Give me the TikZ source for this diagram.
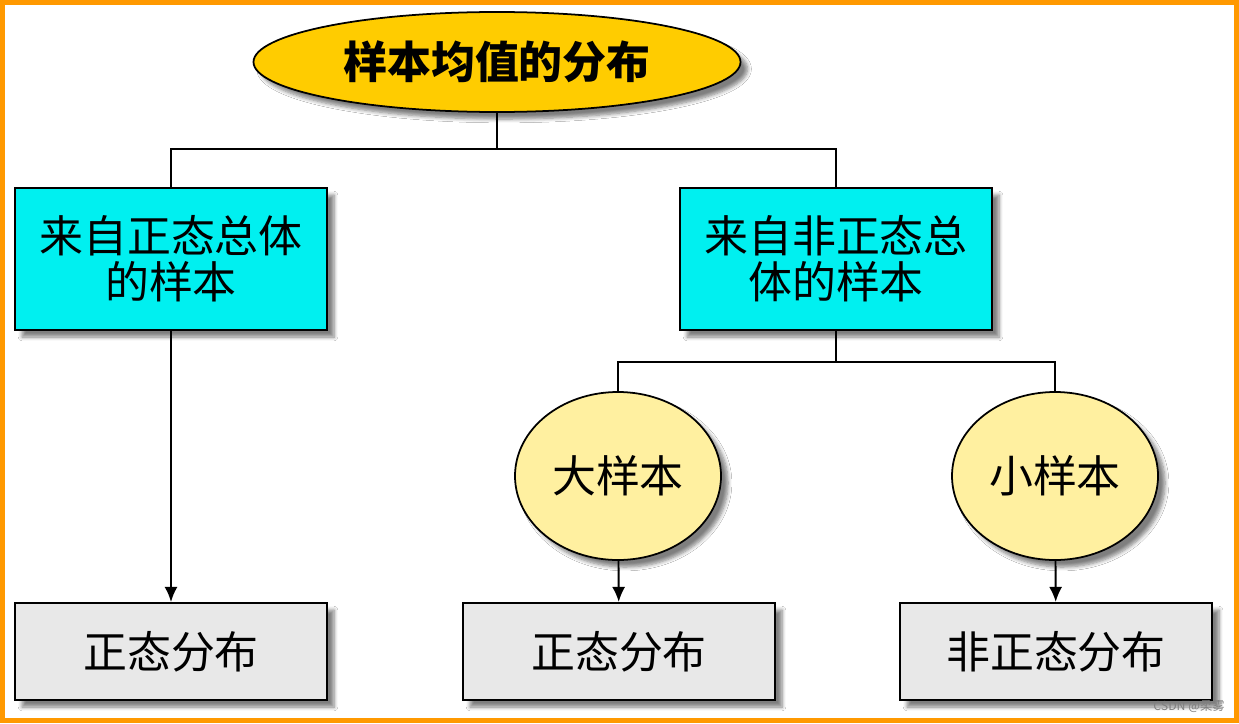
\documentclass[tikz,border=0pt]{standalone}
\usepackage{fontspec}
\setmainfont{Noto Sans CJK SC}
\usetikzlibrary{shapes.geometric}
\usetikzlibrary{shadows.blur}
\usetikzlibrary{arrows.meta}
\definecolor{framecol}{RGB}{255,153,0}
\definecolor{goldcol}{RGB}{255,204,0}
\definecolor{cyancol}{RGB}{0,240,240}
\definecolor{paleyellow}{RGB}{255,240,160}
\definecolor{palegray}{RGB}{232,232,232}
\tikzset{every node/.style={font=\fontsize{25}{26}\selectfont, align=center, inner sep=0pt},
         shade it/.style={blur shadow={shadow xshift=4pt, shadow yshift=-4pt, shadow blur steps=6, shadow opacity=50}},
         topnode/.style={ellipse, draw, line width=1pt, fill=goldcol, shade it,
                         minimum width=9.74cm, minimum height=2cm},
         samplebox/.style={rectangle, draw, line width=1.2pt, fill=cyancol, shade it,
                           minimum width=6.24cm, minimum height=2.84cm},
         sizecircle/.style={ellipse, draw, line width=1pt, fill=paleyellow, shade it,
                            minimum width=4.12cm, minimum height=3.36cm},
         resultbox/.style={rectangle, draw, line width=1.2pt, fill=palegray, shade it,
                           minimum width=6.24cm, minimum height=1.94cm},
         link/.style={draw, line width=1.1pt},
         every edge/.style={link, -{Latex[length=0.3cm, width=0.26cm]}} }
\begin{document}
\begin{tikzpicture}
    \useasboundingbox (0,0) rectangle (24.78,-14.46);
    \fill[white] (0,0) rectangle (24.78,-14.46);
    \draw[framecol, line width=0.1cm] (0.05,-0.05) rectangle (24.73,-14.41);
    % nodes
    \node[topnode] (mean) at (9.94,-1.24) {\bfseries 样本均值的分布};
    \node[samplebox] (normal) at (3.42,-5.18) {来自正态总体\\的样本};
    \node[samplebox] (nonnormal) at (16.72,-5.18) {来自非正态总\\体的样本};
    \node[sizecircle] (large) at (12.36,-9.52) {大样本};
    \node[sizecircle] (small) at (21.10,-9.52) {小样本};
    \node[resultbox] (res1) at (3.42,-13.03) {正态分布};
    \node[resultbox] (res2) at (12.38,-13.03) {正态分布};
    \node[resultbox] (res3) at (21.12,-13.03) {非正态分布};
    % branch points
    \coordinate (split1) at (9.94,-2.98);
    \coordinate (split2) at (16.72,-7.24);
    \draw[link] (mean) -- (split1) -| (normal);
    \draw[link] (split1) -| (nonnormal);
    \draw[link] (nonnormal) -- (split2) -| (large);
    \draw[link] (split2) -| (small);
    \draw (normal) edge (res1);
    \draw (large) edge (res2);
    \draw (small) edge (res3);
    \node[font=\fontsize{7}{8}\selectfont, text=gray] (mark) at (23.78,-14.14) {CSDN @柔雾};
\end{tikzpicture}
\end{document}
